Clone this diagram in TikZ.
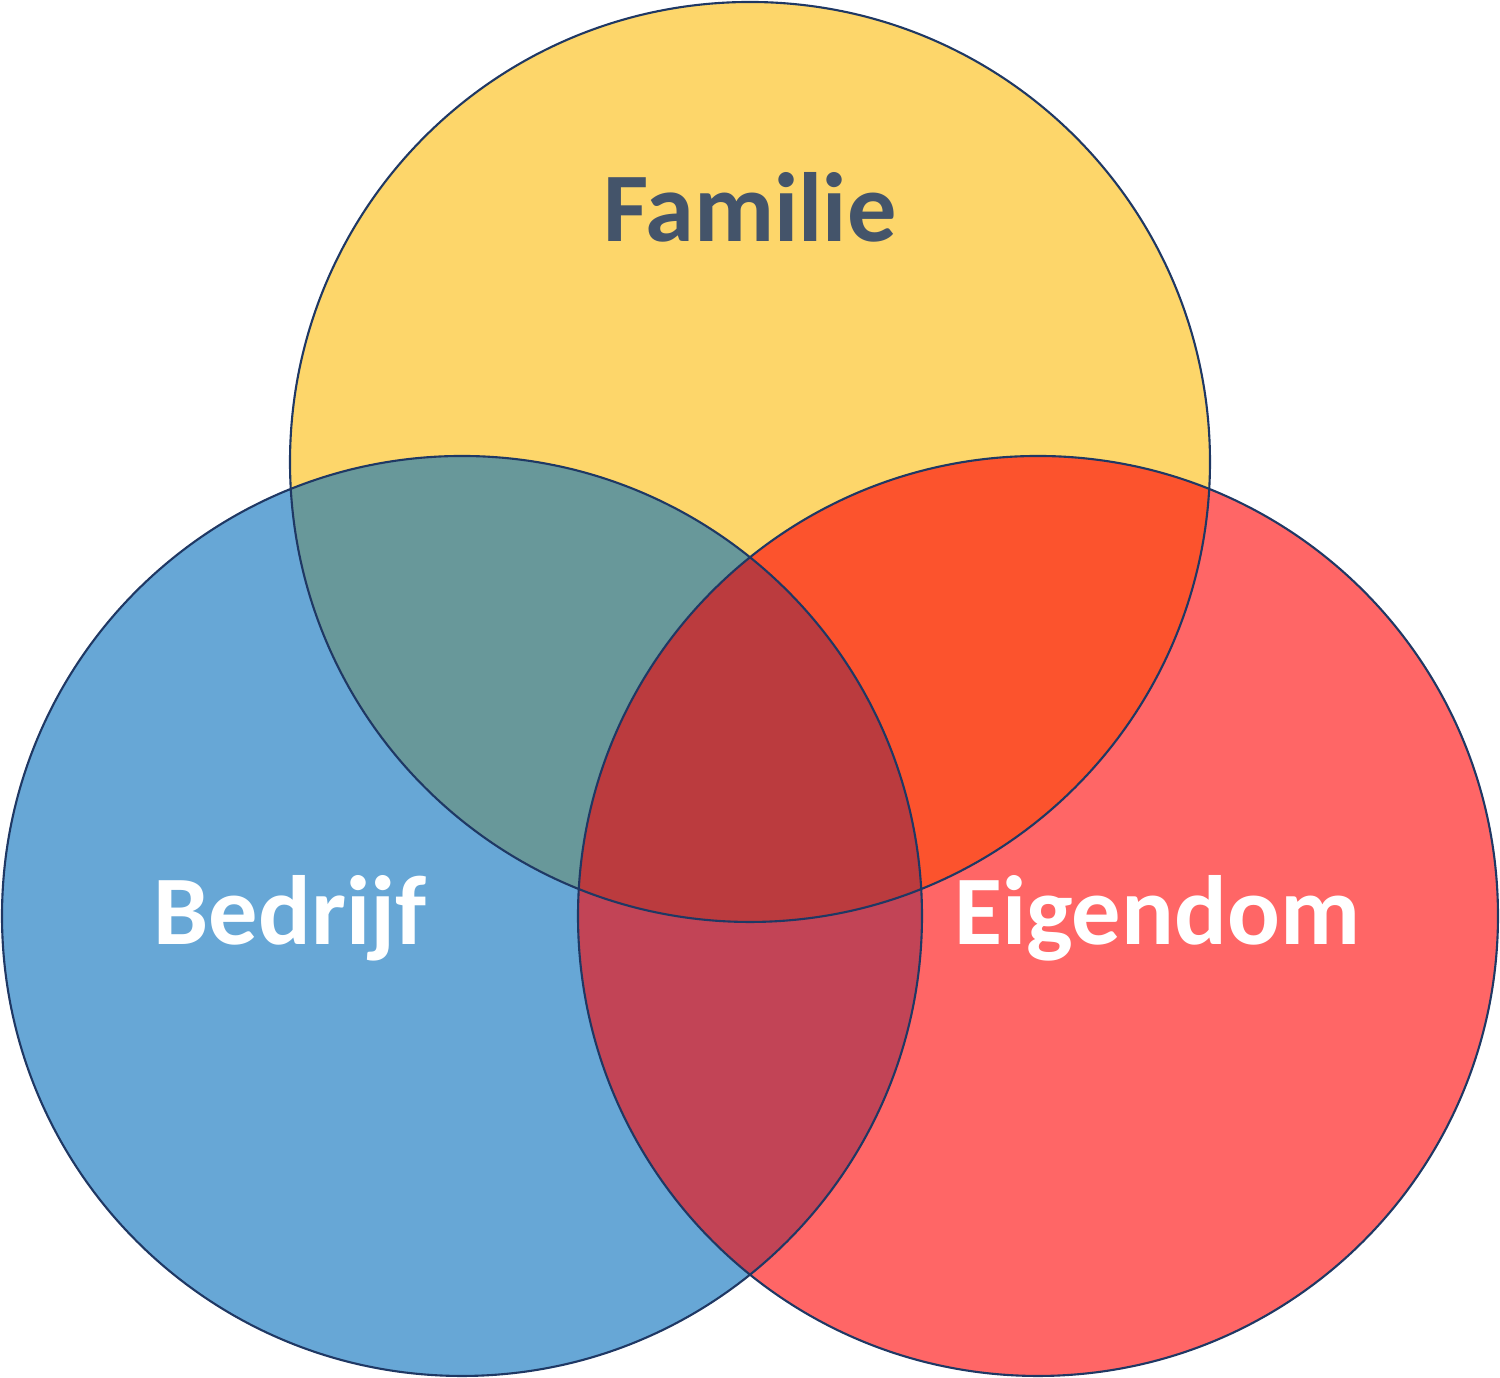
\documentclass[tikz,border=0pt]{standalone}
\usepackage{fontspec}
\setmainfont{Carlito}
\definecolor{cy}{HTML}{FDD66A}
\definecolor{cb}{HTML}{67A7D6}
\definecolor{cr}{HTML}{FF6666}
\definecolor{cyb}{HTML}{68989A}
\definecolor{cyr}{HTML}{FC532D}
\definecolor{cbr}{HTML}{C24456}
\definecolor{call}{HTML}{BB3B3E}
\definecolor{edge}{HTML}{1F3864}
\definecolor{tdark}{HTML}{44546A}
\tikzset{lbl/.style={font=\bfseries\fontsize{28}{30}\selectfont}}
\begin{document}
\begin{tikzpicture}
\useasboundingbox (0,0) rectangle (15,13.78);
\def\T{(7.5,9.16) circle (4.6)}
\def\L{(4.62,4.62) circle (4.6)}
\def\R{(10.38,4.62) circle (4.6)}
\fill[cy] \T; \fill[cb] \L; \fill[cr] \R;
\begin{scope}\clip \T; \fill[cyb] \L; \fill[cyr] \R; \end{scope}
\begin{scope}\clip \L; \fill[cbr] \R; \end{scope}
\begin{scope}\clip \T; \clip \L; \fill[call] \R; \end{scope}
\draw[edge, line width=0.6pt] \T \L \R;
\node[lbl, text=tdark] (fam) at (7.5,11.71) {Familie};
\node[lbl, text=white] (bed) at (2.9,4.6) {Bedrijf};
\node[lbl, text=white] (eig) at (11.57,4.6) {Eigendom};
\end{tikzpicture}
\end{document}
